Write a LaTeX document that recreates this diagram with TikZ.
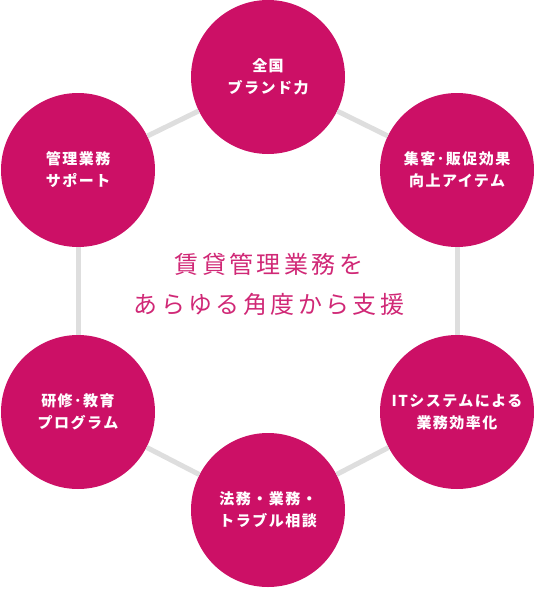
\documentclass[tikz,border=0pt]{standalone}
\usepackage{fontspec}
\newfontfamily\cjk[LetterSpace=10]{Noto Sans CJK JP}
\newfontfamily\cjkc[LetterSpace=14]{Noto Sans CJK JP}
\definecolor{mag}{RGB}{204,16,102}
\definecolor{lin}{RGB}{222,222,222}
\definecolor{ctext}{RGB}{208,40,118}
\begin{document}
\begin{tikzpicture}[x=1pt,y=-1pt,
  circ/.style={circle,fill=mag,minimum size=154pt,inner sep=0pt,text=white,
    font=\cjk\bfseries\fontsize{15}{22}\selectfont,align=center},
  link/.style={draw=lin,line width=5pt},
  center text/.style={text=ctext,font=\cjkc\fontsize{24}{40}\selectfont,align=center}]
\useasboundingbox (0,0) rectangle (534,589);
\node[circ] (a) at (268,77) {全国\\ブランド力};
\node[circ] (b) at (457,170) {集客･販促効果\\向上アイテム};
\node[circ] (c) at (457,412) {ITシステムによる\\業務効率化};
\node[circ] (d) at (268,510) {法務・業務・\\トラブル相談};
\node[circ] (e) at (78,412) {研修･教育\\プログラム};
\node[circ] (f) at (78,170) {管理業務\\サポート};
\draw[link] (f) -- (a);
\draw[link] (a) -- (b);
\draw[link] (b) -- (c);
\draw[link] (c) -- (d);
\draw[link] (d) -- (e);
\draw[link] (e) -- (f);
\node[center text] (t) at (269,284) {賃貸管理業務を\\あらゆる角度から支援};
\end{tikzpicture}
\end{document}
